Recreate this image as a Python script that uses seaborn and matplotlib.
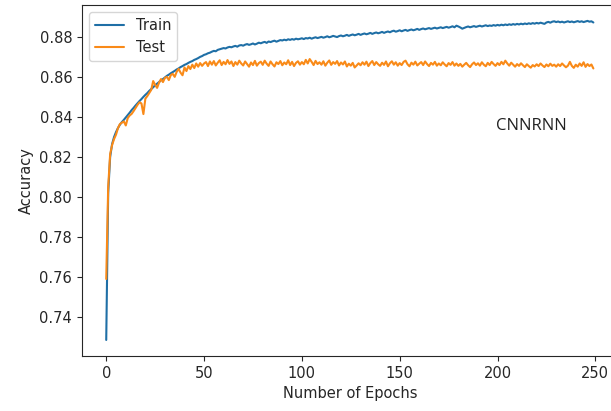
import numpy as np
import pandas as pd
import matplotlib
matplotlib.use("Agg")
import matplotlib.pyplot as plt
import seaborn as sns

# Accuracy per epoch (epochs 0..249)
train_acc = [
    0.7285, 0.8020, 0.8200, 0.8265, 0.8300, 0.8325, 0.8345, 0.8362, 0.8375, 0.8386,
    0.8398, 0.8410, 0.8422, 0.8435, 0.8446, 0.8458, 0.8469, 0.8480, 0.8490, 0.8501,
    0.8511, 0.8520, 0.8531, 0.8540, 0.8549, 0.8559, 0.8567, 0.8575, 0.8584, 0.8590,
    0.8598, 0.8606, 0.8612, 0.8619, 0.8625, 0.8631, 0.8638, 0.8643, 0.8650, 0.8655,
    0.8661, 0.8665, 0.8671, 0.8676, 0.8680, 0.8686, 0.8690, 0.8695, 0.8701, 0.8705,
    0.8711, 0.8714, 0.8719, 0.8722, 0.8727, 0.8731, 0.8729, 0.8736, 0.8739, 0.8742,
    0.8745, 0.8743, 0.8748, 0.8751, 0.8749, 0.8753, 0.8756, 0.8752, 0.8758, 0.8760,
    0.8757, 0.8762, 0.8765, 0.8761, 0.8764, 0.8768, 0.8763, 0.8767, 0.8772, 0.8769,
    0.8773, 0.8776, 0.8771, 0.8778, 0.8775, 0.8779, 0.8782, 0.8777, 0.8781, 0.8785,
    0.8783, 0.8787, 0.8784, 0.8789, 0.8786, 0.8790, 0.8787, 0.8792, 0.8789, 0.8791,
    0.8794, 0.8790, 0.8795, 0.8793, 0.8797, 0.8792, 0.8796, 0.8799, 0.8795, 0.8798,
    0.8801, 0.8797, 0.8800, 0.8804, 0.8799, 0.8802, 0.8806, 0.8803, 0.8800, 0.8805,
    0.8808, 0.8804, 0.8807, 0.8811, 0.8806, 0.8810, 0.8813, 0.8809, 0.8812, 0.8816,
    0.8811, 0.8815, 0.8818, 0.8814, 0.8817, 0.8821, 0.8816, 0.8820, 0.8823, 0.8819,
    0.8822, 0.8826, 0.8821, 0.8825, 0.8828, 0.8824, 0.8829, 0.8832, 0.8827, 0.8830,
    0.8834, 0.8829, 0.8833, 0.8836, 0.8831, 0.8835, 0.8838, 0.8834, 0.8837, 0.8841,
    0.8836, 0.8840, 0.8843, 0.8839, 0.8842, 0.8845, 0.8841, 0.8844, 0.8847, 0.8843,
    0.8846, 0.8849, 0.8845, 0.8848, 0.8851, 0.8847, 0.8850, 0.8854, 0.8849, 0.8857,
    0.8853, 0.8848, 0.8842, 0.8846, 0.8850, 0.8853, 0.8849, 0.8852, 0.8855, 0.8851,
    0.8854, 0.8857, 0.8853, 0.8856, 0.8859, 0.8855, 0.8858, 0.8856, 0.8860, 0.8857,
    0.8861, 0.8858, 0.8862, 0.8859, 0.8863, 0.8860, 0.8864, 0.8861, 0.8865, 0.8862,
    0.8866, 0.8863, 0.8867, 0.8864, 0.8868, 0.8865, 0.8869, 0.8866, 0.8870, 0.8867,
    0.8871, 0.8868, 0.8872, 0.8869, 0.8866, 0.8873, 0.8876, 0.8872, 0.8877, 0.8879,
    0.8875, 0.8878, 0.8874, 0.8877, 0.8873, 0.8876, 0.8879, 0.8875, 0.8878, 0.8874,
    0.8877, 0.8880, 0.8876, 0.8879, 0.8875, 0.8878, 0.8881, 0.8877, 0.8879, 0.8873,
]

test_acc = [
    0.7590, 0.8050, 0.8215, 0.8260, 0.8290, 0.8312, 0.8345, 0.8365, 0.8372, 0.8378,
    0.8358, 0.8395, 0.8408, 0.8416, 0.8430, 0.8446, 0.8461, 0.8474, 0.8468, 0.8415,
    0.8492, 0.8505, 0.8521, 0.8536, 0.8580, 0.8561, 0.8546, 0.8572, 0.8590, 0.8575,
    0.8596, 0.8601, 0.8585, 0.8610, 0.8616, 0.8601, 0.8626, 0.8641, 0.8622, 0.8609,
    0.8648, 0.8630, 0.8655, 0.8640, 0.8662, 0.8645, 0.8668, 0.8652, 0.8670, 0.8656,
    0.8668, 0.8675, 0.8655, 0.8678, 0.8662, 0.8680, 0.8658, 0.8672, 0.8684, 0.8660,
    0.8676, 0.8664, 0.8685, 0.8666, 0.8678, 0.8655, 0.8675, 0.8662, 0.8682, 0.8668,
    0.8658, 0.8678, 0.8665, 0.8652, 0.8673, 0.8660, 0.8681, 0.8657, 0.8670, 0.8677,
    0.8661, 0.8682, 0.8667, 0.8656, 0.8678, 0.8664, 0.8653, 0.8674, 0.8665, 0.8680,
    0.8659, 0.8673, 0.8664, 0.8684, 0.8660, 0.8676, 0.8655, 0.8671, 0.8679, 0.8662,
    0.8675, 0.8664, 0.8686, 0.8668, 0.8690, 0.8676, 0.8660, 0.8681, 0.8665, 0.8674,
    0.8662, 0.8679, 0.8657, 0.8672, 0.8683, 0.8661, 0.8675, 0.8666, 0.8680, 0.8658,
    0.8673, 0.8663, 0.8678, 0.8653, 0.8667, 0.8657, 0.8671, 0.8648, 0.8658, 0.8669,
    0.8659, 0.8674, 0.8662, 0.8677, 0.8655, 0.8670, 0.8680, 0.8660, 0.8675, 0.8664,
    0.8656, 0.8672, 0.8661, 0.8678, 0.8654, 0.8669, 0.8679, 0.8662, 0.8674, 0.8657,
    0.8670, 0.8660, 0.8676, 0.8682, 0.8664, 0.8654, 0.8672, 0.8662, 0.8677, 0.8658,
    0.8667, 0.8675, 0.8660, 0.8678, 0.8665, 0.8655, 0.8671, 0.8662, 0.8676, 0.8657,
    0.8668, 0.8659, 0.8674, 0.8663, 0.8654, 0.8670, 0.8661, 0.8675, 0.8657, 0.8668,
    0.8656, 0.8666, 0.8652, 0.8662, 0.8671, 0.8659, 0.8650, 0.8664, 0.8673, 0.8660,
    0.8669, 0.8657, 0.8674, 0.8662, 0.8654, 0.8671, 0.8660, 0.8676, 0.8665, 0.8656,
    0.8670, 0.8660, 0.8676, 0.8664, 0.8682, 0.8668, 0.8657, 0.8672, 0.8662, 0.8652,
    0.8665, 0.8656, 0.8669, 0.8659, 0.8650, 0.8664, 0.8655, 0.8647, 0.8660, 0.8653,
    0.8664, 0.8655, 0.8668, 0.8658, 0.8650, 0.8663, 0.8654, 0.8667, 0.8656, 0.8662,
    0.8652, 0.8664, 0.8655, 0.8668, 0.8658, 0.8649, 0.8657, 0.8676, 0.8656, 0.8646,
    0.8662, 0.8652, 0.8668, 0.8656, 0.8674, 0.8651, 0.8665, 0.8655, 0.8663, 0.8643,
]

model_name = "CNNRNN"

sns.set_style("ticks")
plt.rcParams["font.family"] = ["DejaVu Sans"]

epochs = np.arange(len(train_acc))
df = pd.DataFrame({"Epoch": epochs, "Train": train_acc, "Test": test_acc})
long_df = df.melt(id_vars="Epoch", var_name="Set", value_name="Accuracy")

fig = plt.figure(figsize=(6.11, 4.11), dpi=100)
ax = fig.add_axes([0.134, 0.134, 0.877, 0.854])

sns.lineplot(data=long_df, x="Epoch", y="Accuracy", hue="Set",
             palette=["#1f6fa6", "#f98a18"], linewidth=1.5, ax=ax)

ax.set_xlabel("Number of Epochs", fontsize=10.5)
ax.set_ylabel("Accuracy", fontsize=10.5)
ax.tick_params(labelsize=10.5)
ax.set_yticks([0.74, 0.76, 0.78, 0.80, 0.82, 0.84, 0.86, 0.88])
ax.set_xticks([0, 50, 100, 150, 200, 250])

leg = ax.legend(loc="upper left", fontsize=10.5)
leg.set_title(None)

ax.text(199, 0.8355, model_name, fontsize=12, family=["Open Sans", "DejaVu Sans"],
        va="center", ha="left", color="#222222")

fig.savefig("out.png", dpi=100)
